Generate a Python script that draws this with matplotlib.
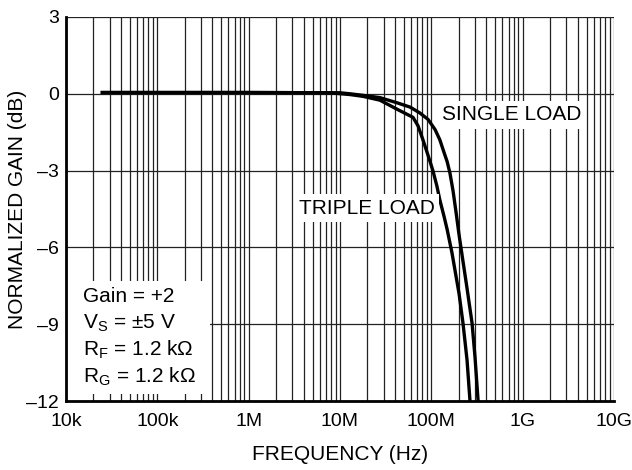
import matplotlib
matplotlib.use("Agg")
import matplotlib.pyplot as plt
from matplotlib.patches import Rectangle
from matplotlib.ticker import FixedLocator, NullFormatter

plt.rcParams['font.family'] = ['Liberation Sans', 'DejaVu Sans']
plt.rcParams['mathtext.fontset'] = 'custom'
plt.rcParams['mathtext.rm'] = 'Liberation Sans'

# Frequency response data (Hz, dB)
single_freq = [25e3, 1e6, 10e6, 12.9e6, 17.9e6, 27.4e6, 42e6, 58.5e6, 75e6, 92e6,
               110e6, 124e6, 138e6, 149e6, 160e6, 173e6, 186e6, 201e6, 217e6,
               246e6, 279e6, 301e6, 325e6]
single_gain = [0.05, 0.05, 0.04, 0.0, -0.06, -0.15, -0.35, -0.52, -0.75, -1.0,
               -1.4, -1.8, -2.3, -2.65, -3.1, -3.8, -4.6, -5.5, -6.3,
               -7.6, -8.95, -10.3, -12.0]

triple_freq = [25e3, 1e6, 7.8e6, 12.9e6, 17.9e6, 27.4e6, 42e6, 63e6, 71.5e6, 81e6,
               92e6, 104e6, 115e6, 124e6, 138e6, 149e6, 168e6, 201e6, 222e6,
               246e6, 265e6]
triple_gain = [0.05, 0.05, 0.04, -0.03, -0.1, -0.25, -0.6, -0.92, -1.25, -1.8,
               -2.4, -3.0, -3.6, -4.15, -4.8, -5.3, -6.2, -7.8, -8.95,
               -10.4, -12.0]

x_ticks = [1e4, 1e5, 1e6, 1e7, 1e8, 1e9, 1e10]
x_tick_labels = ['10k', '100k', '1M', '10M', '100M', '1G', '10G']
y_ticks = [-12, -9, -6, -3, 0, 3]
y_tick_labels = ['\u201312', '\u20139', '\u20136', '\u20133', '0', '3']

conditions = ['Gain = +2',
              'V$_\\mathregular{S}$ = \u00b15 V',
              'R$_\\mathregular{F}$ = 1.2 k\u03a9',
              'R$_\\mathregular{G}$ = 1.2 k\u03a9']

FS = 15
TICK_FS = 14

fig = plt.figure(figsize=(6.32, 4.70), dpi=100)
ax = fig.add_axes([66 / 632, 1 - 401 / 470, 548 / 632, 384 / 470])

ax.set_xscale('log')
ax.set_xlim(1e4, 1e10)
ax.set_ylim(-12, 3)

# grid: every 1-9 multiple of each decade, horizontal every 3 dB
minor = [m * 10 ** d for d in range(4, 10) for m in range(2, 10)]
ax.xaxis.set_major_locator(FixedLocator(x_ticks))
ax.xaxis.set_minor_locator(FixedLocator(minor))
ax.xaxis.set_minor_formatter(NullFormatter())
ax.set_xticks(x_ticks)
ax.set_xticklabels(x_tick_labels)
ax.set_yticks(y_ticks)
ax.set_yticklabels(y_tick_labels)
ax.grid(True, which='both', axis='x', color='#222222', linewidth=0.9)
ax.grid(True, which='major', axis='y', color='#222222', linewidth=0.9)
ax.tick_params(which='both', length=0, labelsize=TICK_FS, colors='black')
ax.tick_params(axis='x', pad=9)
ax.tick_params(axis='y', pad=5)

for side in ('top', 'right'):
    ax.spines[side].set_visible(False)
for side in ('left', 'bottom'):
    ax.spines[side].set_linewidth(2.0)
    ax.spines[side].set_color('black')
    ax.spines[side].set_zorder(5)

ax.plot(single_freq, single_gain, color='black', linewidth=2.4, zorder=3,
        solid_joinstyle='round')
ax.plot(triple_freq, triple_gain, color='black', linewidth=2.4, zorder=3,
        solid_joinstyle='round')

fig.text(340 / 632, 1 - 455 / 470, 'FREQUENCY (Hz)', ha='center', va='center',
         fontsize=FS)
fig.text(18 / 632, 1 - 209 / 470, 'NORMALIZED GAIN (dB)', ha='center',
         va='center', rotation=90, fontsize=FS)

fig.text(512 / 632, 1 - 115 / 470, 'SINGLE LOAD', ha='center', va='center',
         fontsize=FS, zorder=4,
         bbox=dict(facecolor='white', edgecolor='none', pad=3))
fig.text(367 / 632, 1 - 208 / 470, 'TRIPLE LOAD', ha='center', va='center',
         fontsize=FS, zorder=4,
         bbox=dict(facecolor='white', edgecolor='none', pad=3))

ax.add_patch(Rectangle((0, 0.018), 0.263, 0.295, transform=ax.transAxes,
                       facecolor='white', edgecolor='none', zorder=4))
cond_y = [0.271, 0.203, 0.133, 0.0625]
for label, yy in zip(conditions, cond_y):
    ax.text(0.031, yy, label, transform=ax.transAxes, ha='left', va='center',
            fontsize=FS, zorder=5)

fig.savefig('out.png', dpi=100)
